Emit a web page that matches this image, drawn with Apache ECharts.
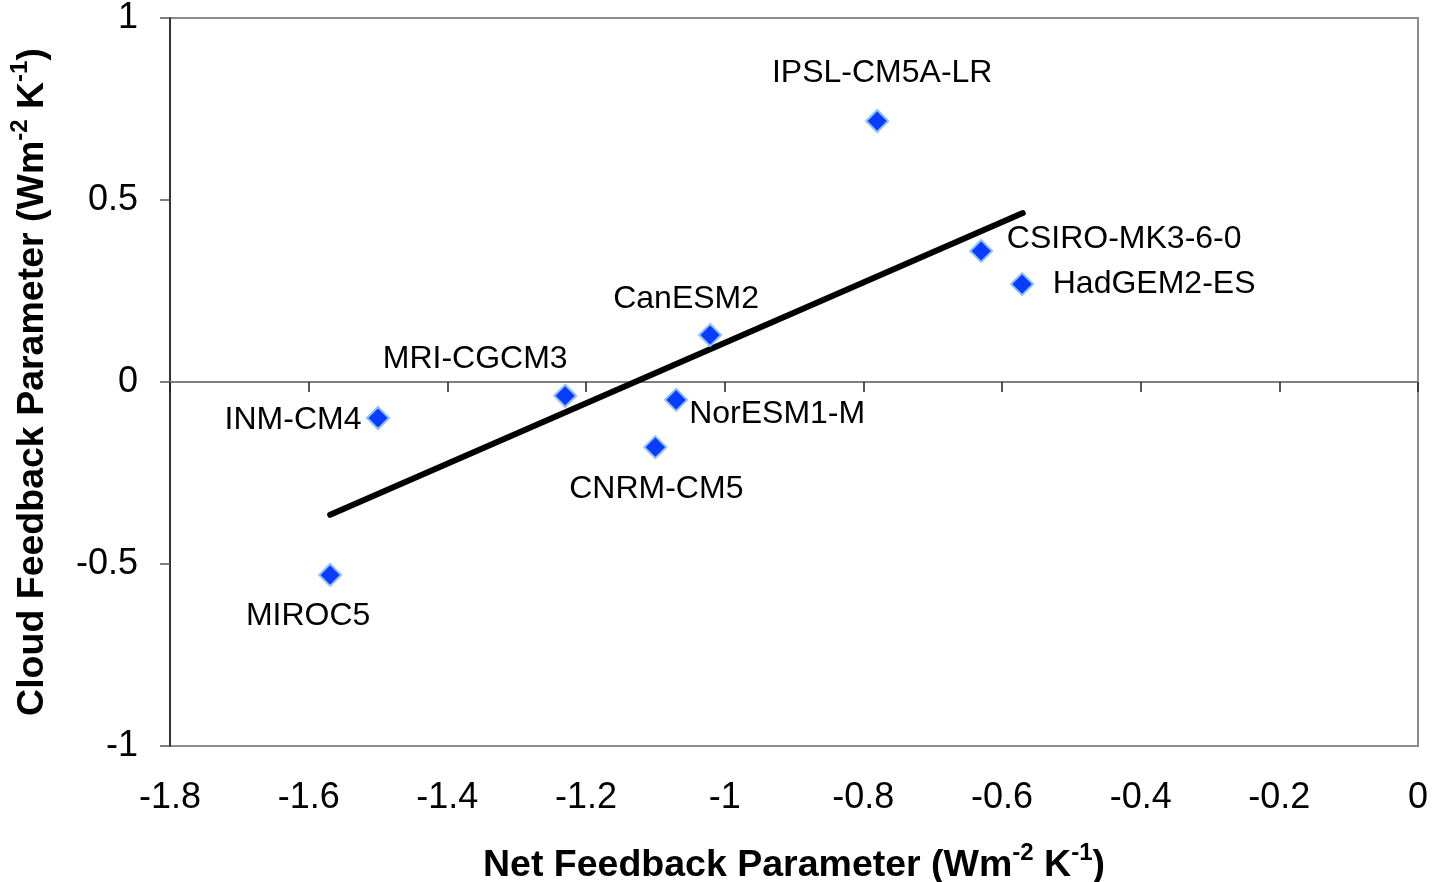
<!DOCTYPE html>
<html>
<head>
<meta charset="utf-8">
<script src="https://cdn.jsdelivr.net/npm/echarts@6/dist/echarts.min.js"></script>
<style>
html,body{margin:0;padding:0;background:#fff;}
#chart{width:1434px;height:882px;}
</style>
</head>
<body>
<div id="chart"></div>
<script>
// ---- data ----
const models = ['IPSL-CM5A-LR','CSIRO-MK3-6-0','HadGEM2-ES','CanESM2','MRI-CGCM3','NorESM1-M','CNRM-CM5','INM-CM4','MIROC5'];
const netFeedback = [-0.780,-0.630,-0.571,-1.021,-1.230,-1.070,-1.100,-1.500,-1.569];
const cloudFeedback = [0.717,0.360,0.269,0.129,-0.038,-0.049,-0.179,-0.099,-0.530];
const trendX = [-1.569,-0.570];
const trendY = [-0.365,0.464];
const xTicks = {min:-1.8,max:0,interval:0.2};
const yTicks = {min:-1,max:1,interval:0.5};

// ---- label placement (styling) ----
const labelOffsets = {
  'IPSL-CM5A-LR':[5,-48],
  'CSIRO-MK3-6-0':[143,-12],
  'HadGEM2-ES':[132,0],
  'CanESM2':[-24,-36],
  'MRI-CGCM3':[-90,-37],
  'NorESM1-M':[101,14],
  'CNRM-CM5':[1,42],
  'INM-CM4':[-85,2],
  'MIROC5':[-22,41]
};

const FONT = '"Liberation Sans", Arial, sans-serif';
const chart = echarts.init(document.getElementById('chart'), null, {renderer:'canvas'});

const pts = models.map((m,i)=>({
  name:m,
  value:[netFeedback[i], cloudFeedback[i]],
  label:{offset:labelOffsets[m]}
}));

const fmt = v => (Math.round(v*10)/10).toString();

const supRich = {
  t:{fontFamily:FONT,fontWeight:'bold',fontSize:37.5,color:'#000',lineHeight:46,verticalAlign:'bottom'},
  s:{fontFamily:FONT,fontWeight:'bold',fontSize:24,color:'#000',lineHeight:46,verticalAlign:'top',padding:[2,0,0,0]}
};

chart.setOption({
  animation:false,
  grid:{left:170,right:16,top:18,bottom:136,outerBoundsMode:'none',containLabel:false,show:true,borderColor:'#8c8c8c',borderWidth:2,backgroundColor:'#fff'},
  xAxis:[{
    type:'value',min:xTicks.min,max:xTicks.max,interval:xTicks.interval,
    position:'bottom',
    axisLine:{show:false,onZero:false},
    axisTick:{show:false},
    splitLine:{show:false},
    axisLabel:{fontFamily:FONT,fontSize:36,color:'#000',margin:34,formatter:fmt},
    name:'{t|Net Feedback Parameter (Wm}{s|-2}{t| K}{s|-1}{t|)}',
    nameLocation:'middle',nameGap:93,
    nameTextStyle:{rich:supRich}
  },{
    type:'value',min:xTicks.min,max:xTicks.max,interval:xTicks.interval,
    position:'top',
    axisLine:{show:true,onZero:true,lineStyle:{color:'#808080',width:2}},
    axisTick:{show:true,inside:true,length:10,lineStyle:{color:'#222',width:1.5}},
    axisLabel:{show:false},
    splitLine:{show:false}
  }],
  yAxis:{
    type:'value',min:yTicks.min,max:yTicks.max,interval:yTicks.interval,
    axisLine:{show:true,onZero:false,lineStyle:{color:'#333',width:2}},
    axisTick:{show:true,length:10,lineStyle:{color:'#555',width:1.5}},
    splitLine:{show:false},
    axisLabel:{fontFamily:FONT,fontSize:36,color:'#000',margin:32,formatter:fmt},
    name:'{t|Cloud Feedback Parameter (Wm}{s|-2}{t| K}{s|-1}{t|)}',
    nameLocation:'middle',nameGap:118,
    nameTextStyle:{rich:supRich}
  },
  series:[{
    type:'line',
    xAxisIndex:0,
    data:trendX.map((x,i)=>[x,trendY[i]]),
    showSymbol:false,symbol:'none',
    lineStyle:{color:'#000',width:6,cap:'round'},
    silent:true,z:2
  },{
    type:'scatter',
    xAxisIndex:0,
    data:pts,
    symbol:'diamond',symbolSize:22,
    itemStyle:{color:'#0a3cff',borderColor:'#8ec0ff',borderWidth:2,opacity:1},
    label:{show:true,position:'inside',formatter:'{b}',fontFamily:FONT,fontSize:32,color:'#000',align:'center',verticalAlign:'middle'},
    z:3
  }]
});
</script>
</body>
</html>
